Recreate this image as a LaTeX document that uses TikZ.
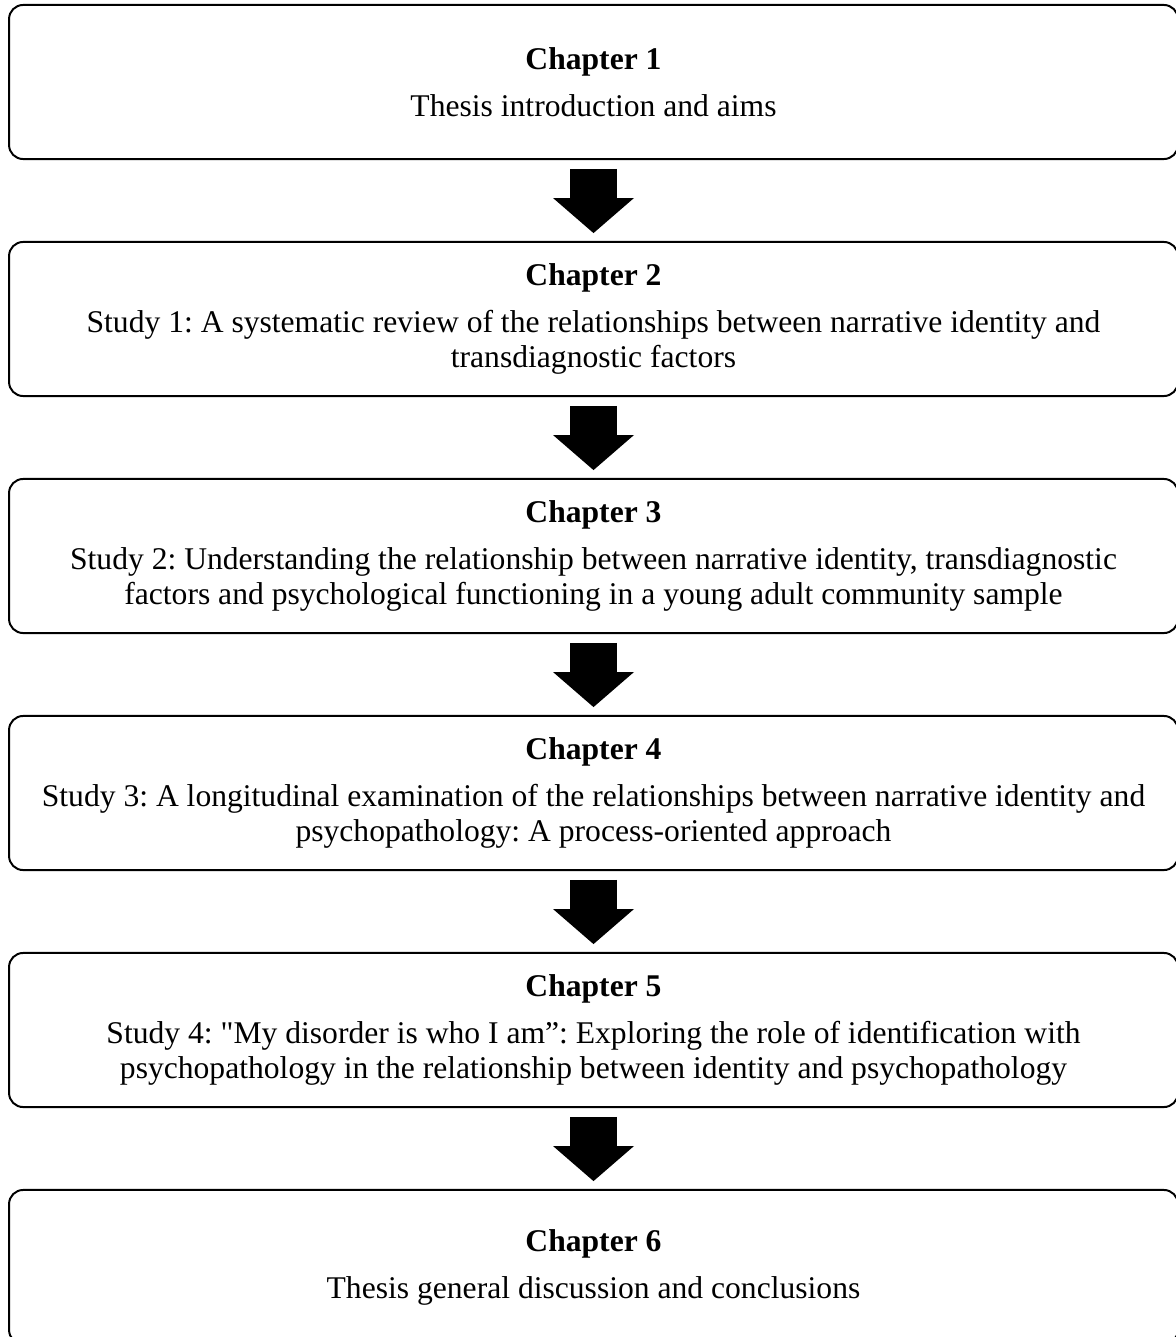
\documentclass[tikz,border=0pt]{standalone}
\usepackage{fontspec}
\setmainfont{Liberation Serif}[Ligatures=TeXOff]
\usetikzlibrary{arrows.meta}
\tikzset{
  chapbox/.style={draw, line width=0.8pt, rounded corners=5.7pt, inner sep=0pt,
    minimum width=473.4pt, minimum height=62.4pt, align=center,
    font=\fontsize{12.8}{14}\selectfont\frenchspacing},
  bigarrow/.style={line width=19pt, shorten <=3.6pt, shorten >=3.2pt,
    -{Triangle[width=32.8pt,length=14.2pt,line width=0pt]}}
}
\begin{document}
\begin{tikzpicture}[x=0.405pt,y=-0.405pt]
      \useasboundingbox (0,0) rectangle (1175,1337);
      \node[chapbox] (ch1) at (593.5,82) {\textbf{Chapter 1}\\[5pt]Thesis introduction and aims};
      \node[chapbox] (ch2) at (593.5,319) {\textbf{Chapter 2}\\[5pt]Study 1: A systematic review of the relationships between narrative identity and\\transdiagnostic factors};
      \node[chapbox] (ch3) at (593.5,556) {\textbf{Chapter 3}\\[5pt]Study 2: Understanding the relationship between narrative identity, transdiagnostic\\factors and psychological functioning in a young adult community sample};
      \node[chapbox] (ch4) at (593.5,793) {\textbf{Chapter 4}\\[5pt]Study 3: A longitudinal examination of the relationships between narrative identity and\\psychopathology: A process-oriented approach};
      \node[chapbox] (ch5) at (593.5,1030) {\textbf{Chapter 5}\\[5pt]Study 4: "My disorder is who I am”: Exploring the role of identification with\\psychopathology in the relationship between identity and psychopathology};
      \node[chapbox] (ch6) at (593.5,1267) {\textbf{Chapter 6}\\[5pt]Thesis general discussion and conclusions};
      \draw[bigarrow] (ch1.south) -- (ch2.north);
      \draw[bigarrow] (ch2.south) -- (ch3.north);
      \draw[bigarrow] (ch3.south) -- (ch4.north);
      \draw[bigarrow] (ch4.south) -- (ch5.north);
      \draw[bigarrow] (ch5.south) -- (ch6.north);
\end{tikzpicture}
\end{document}
